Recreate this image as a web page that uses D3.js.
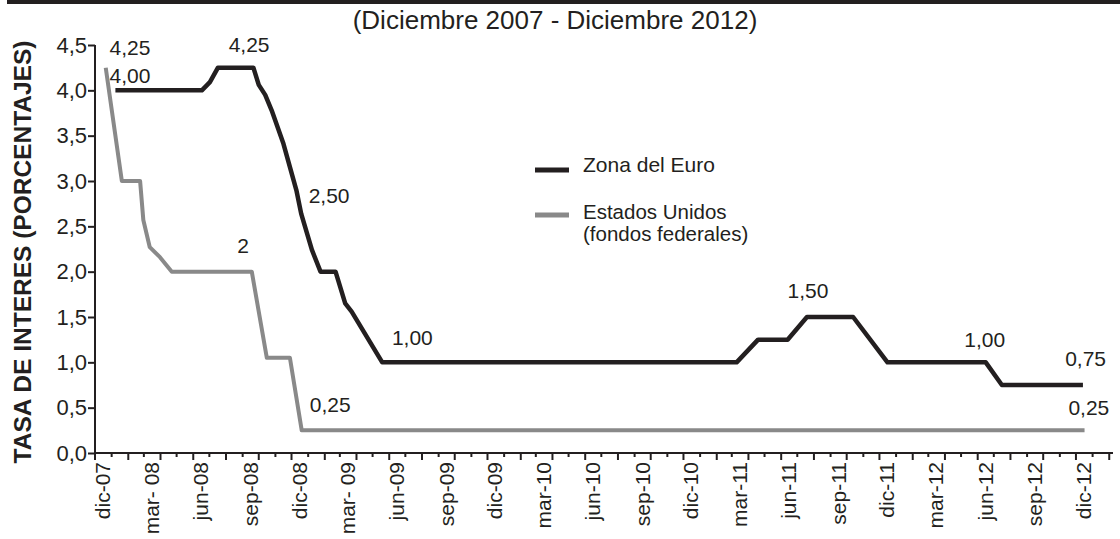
<!DOCTYPE html>
<html><head><meta charset="utf-8">
<script src="https://cdn.jsdelivr.net/npm/d3@7"></script>
<style>
html,body{margin:0;padding:0;background:#fff;}
svg{display:block;font-family:"Liberation Sans",Arial,Helvetica,sans-serif;}
</style></head>
<body>
<svg id="chart" width="1120" height="539"></svg>
<script>
// ---- data ----
const title = "(Diciembre 2007 - Diciembre 2012)";
const yAxisTitle = "TASA DE INTERES (PORCENTAJES)";
const yTicks = [0, 0.5, 1, 1.5, 2, 2.5, 3, 3.5, 4, 4.5];
const xTickLabels = ["dic-07","mar- 08","jun-08","sep-08","dic-08","mar- 09","jun-09","sep-09","dic-09","mar-10","jun-10","sep-10","dic-10","mar-11","jun-11","sep-11","dic-11","mar-12","jun-12","sep-12","dic-12"];
const seriesNames = ["Zona del Euro", "Estados Unidos", "(fondos federales)"];

const euroDates = ["2008-01-08","2008-06-17","2008-07-02","2008-07-17","2008-09-21","2008-10-01","2008-10-13","2008-10-25","2008-11-16","2008-12-10","2008-12-19","2009-01-08","2009-01-24","2009-02-21","2009-03-11","2009-03-23","2009-05-19","2011-03-10","2011-04-19","2011-06-13","2011-07-19","2011-10-13","2011-12-16","2012-06-16","2012-07-16","2012-12-14"];
const euroValues = [4.00,4.00,4.09,4.25,4.25,4.06,3.95,3.78,3.41,2.90,2.64,2.24,2.00,2.00,1.65,1.56,1.00,1.00,1.25,1.25,1.50,1.50,1.00,1.00,0.75,0.75];

const usDates = ["2007-12-21","2008-01-20","2008-02-23","2008-02-29","2008-03-12","2008-03-31","2008-04-22","2008-09-18","2008-10-16","2008-11-28","2008-12-20","2012-12-17"];
const usValues = [4.25,3.00,3.00,2.57,2.27,2.16,2.00,2.00,1.05,1.05,0.25,0.25];

const labelTexts  = ["4,25","4,00","4,25","2,50","2","0,25","1,00","1,50","1,00","0,75","0,25"];
const labelDates  = ["2008-02-04","2008-02-04","2008-09-13","2009-02-09","2008-09-02","2009-02-11","2009-07-14","2011-07-21","2012-06-14","2012-12-19","2012-12-25"];
const labelValues = [4.39,4.08,4.42,2.76,2.21,0.45,1.19,1.71,1.17,0.96,0.42];

// ---- layout ----
const svg = d3.select("#chart");
const ink = "#231f20", grey = "#898989";
const parse = d3.timeParse("%Y-%m-%d");
const x = d3.scaleTime().domain([parse("2007-12-01"), parse("2013-02-08")]).range([95, 1113]);
const y = d3.scaleLinear().domain([0, 4.5]).range([453, 45]);

// top rule
svg.append("rect").attr("x", 7).attr("y", 0).attr("width", 1113).attr("height", 4).attr("fill", ink);

// title
svg.append("text").attr("x", 555).attr("y", 29).attr("text-anchor", "middle")
  .attr("font-size", 26).attr("fill", ink).text(title);

// y axis
const yAxis = svg.append("g").attr("transform", "translate(95,0)")
  .call(d3.axisLeft(y).tickValues(yTicks).tickSize(7).tickPadding(1)
    .tickFormat(d => d3.format(".1f")(d).replace(".", ",")));
yAxis.select(".domain").attr("stroke", ink).attr("stroke-width", 2).attr("d", `M0,${y(4.5)}V${y(0)}`);
yAxis.selectAll(".tick line").attr("stroke", ink).attr("stroke-width", 2);
yAxis.selectAll(".tick text").attr("font-size", 22).attr("fill", ink).attr("font-family", "Liberation Sans, Arial, sans-serif");

// x axis (monthly ticks, alternating long/short)
const months = d3.timeMonth.range(parse("2007-12-01"), parse("2013-02-02"));
const xg = svg.append("g").attr("transform", "translate(0,453)");
xg.append("line").attr("x1", 95).attr("x2", 1113).attr("y1", 0).attr("y2", 0).attr("stroke", ink).attr("stroke-width", 2);
xg.selectAll("line.tk").data(months).join("line").attr("class", "tk")
  .attr("x1", d => x(d)).attr("x2", d => x(d)).attr("y1", 0)
  .attr("y2", (d, i) => i % 2 === 0 ? 7 : 4).attr("stroke", ink).attr("stroke-width", 2);
const quarterDates = months.filter((d, i) => i % 3 === 0).slice(0, xTickLabels.length);
xg.selectAll("text.xl").data(quarterDates).join("text").attr("class", "xl")
  .attr("transform", d => `translate(${x(d) + 15},9) rotate(-90)`)
  .attr("text-anchor", "end").attr("font-size", 21).attr("fill", ink)
  .text((d, i) => xTickLabels[i]);

// y title
svg.append("text").attr("transform", "translate(31,252) rotate(-90)")
  .attr("text-anchor", "middle").attr("font-size", 24.5).attr("font-weight", "bold").attr("fill", ink)
  .text(yAxisTitle);

// lines
const line = d3.line().x(d => x(d[0])).y(d => y(d[1]));
const euro = euroDates.map((d, i) => [parse(d), euroValues[i]]);
const us = usDates.map((d, i) => [parse(d), usValues[i]]);
svg.append("path").datum(us).attr("d", line).attr("fill", "none").attr("stroke", grey).attr("stroke-width", 4).attr("stroke-linejoin", "round");
svg.append("path").datum(euro).attr("d", line).attr("fill", "none").attr("stroke", ink).attr("stroke-width", 4.5).attr("stroke-linejoin", "round");

// value labels
svg.selectAll("text.vl").data(labelTexts).join("text").attr("class", "vl")
  .attr("x", (d, i) => x(parse(labelDates[i]))).attr("y", (d, i) => y(labelValues[i]))
  .attr("text-anchor", "middle").attr("font-size", 21).attr("fill", ink).text(d => d);

// legend
const lg = svg.append("g");
lg.append("line").attr("x1", 535).attr("x2", 569).attr("y1", 170).attr("y2", 170).attr("stroke", ink).attr("stroke-width", 5);
lg.append("line").attr("x1", 535).attr("x2", 569).attr("y1", 215).attr("y2", 215).attr("stroke", grey).attr("stroke-width", 5);
lg.append("text").attr("x", 583).attr("y", 172).attr("font-size", 21).attr("fill", ink).text(seriesNames[0]);
lg.append("text").attr("x", 583).attr("y", 219).attr("font-size", 20.5).attr("fill", ink).text(seriesNames[1]);
lg.append("text").attr("x", 583).attr("y", 241).attr("font-size", 20.5).attr("fill", ink).text(seriesNames[2]);
</script>
</body></html>
